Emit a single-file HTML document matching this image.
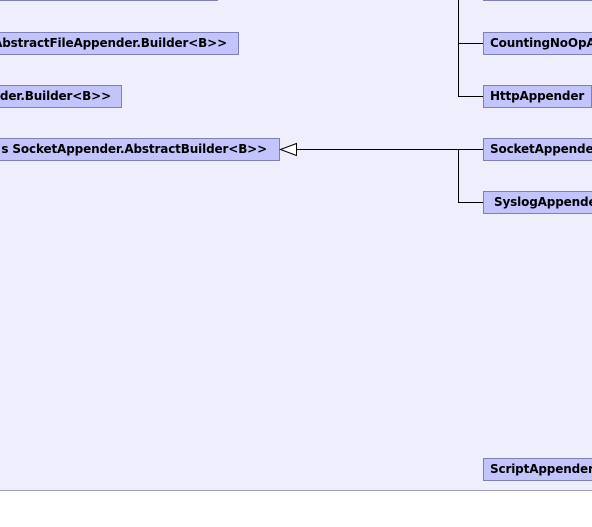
<html><head><style>
body{margin:0;width:592px;height:527px;background:#fff;position:relative;overflow:hidden;font-family:"DejaVu Sans","Liberation Sans",sans-serif}
#bg{position:absolute;left:0;top:0;width:592px;height:490px;background:#eeeefc;border-bottom:1px solid #a0a0b0}
.b{position:absolute;height:21px;background:#c4c4fc;border:1px solid #8080b8;font-weight:bold;font-size:12px;letter-spacing:-0.15px;line-height:21px;white-space:nowrap;overflow:hidden;color:#000;box-sizing:content-box}
.l{position:absolute;background:#000}
</style></head><body>
<div id="bg"></div>
<div class="b" style="left:-1px;top:-22px;width:217px"></div>
<div class="b" style="left:-1px;top:32px;width:238px"><span style="position:absolute;right:11px">AbstractFileAppender.Builder&lt;B&gt;&gt;</span></div>
<div class="b" style="left:-1px;top:85px;width:121px"><span style="position:absolute;right:10px">der.Builder&lt;B&gt;&gt;</span></div>
<div class="b" style="left:-1px;top:138px;width:279px"><span style="position:absolute;right:12px">s SocketAppender.AbstractBuilder&lt;B&gt;&gt;</span></div>
<div class="b" style="left:483px;top:-22px;width:120px"></div>
<div class="b" style="left:483px;top:32px;width:120px;padding-left:6px">CountingNoOpAppender</div>
<div class="b" style="left:483px;top:85px;width:101px;padding-left:6px">HttpAppender</div>
<div class="b" style="left:483px;top:138px;width:120px;padding-left:6px">SocketAppender</div>
<div class="b" style="left:483px;top:191px;width:120px;padding-left:10px">SyslogAppender</div>
<div class="b" style="left:483px;top:458px;width:120px;padding-left:6px">ScriptAppender</div>
<div class="l" style="left:458px;top:0;width:1px;height:96px"></div>
<div class="l" style="left:458px;top:43px;width:25px;height:1px"></div>
<div class="l" style="left:458px;top:96px;width:25px;height:1px"></div>
<div class="l" style="left:296px;top:149px;width:187px;height:1px"></div>
<div class="l" style="left:458px;top:149px;width:1px;height:53px"></div>
<div class="l" style="left:458px;top:202px;width:25px;height:1px"></div>
<svg style="position:absolute;left:0;top:0" width="592" height="527"><polygon points="280.5,149.5 296.5,143.5 296.5,155.5" fill="#fff" stroke="#000" stroke-width="1"/></svg>
</body></html>
